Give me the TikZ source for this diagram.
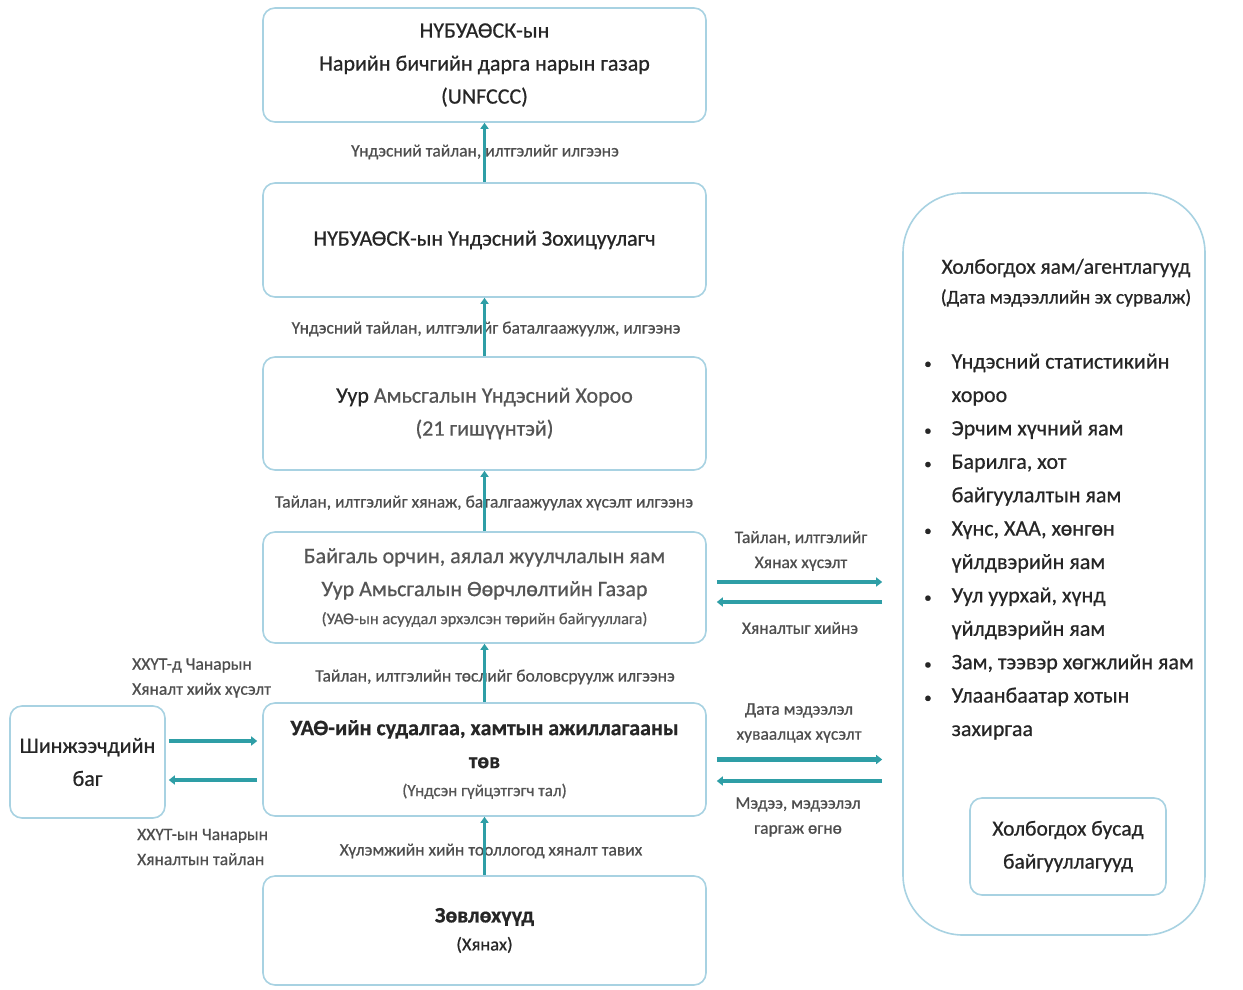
\documentclass[tikz,border=0pt]{standalone}
\usepackage{fontspec}
\setmainfont{Carlito}[FakeBold=0.6]
\usetikzlibrary{arrows.meta,calc}
\definecolor{boxline}{HTML}{A8D2E2}
\definecolor{arrowc}{HTML}{2E9EA6}
\definecolor{txtdark}{HTML}{262626}
\definecolor{txtgray}{HTML}{555555}
\definecolor{lblgray}{HTML}{4E4E4E}
\newcommand{\bul}{{\fontsize{15}{15}\selectfont\textbullet}}
\begin{document}
\begin{tikzpicture}[x=1pt,y=-1pt,
  box/.style={draw=boxline, line width=1.6pt, rounded corners=12pt, fill=white,
    minimum width=443pt, align=center, inner sep=0pt, text=txtdark},
  big/.style={font=\fontsize{22}{33}\selectfont},
  lbl/.style={font=\fontsize{17.5}{25}\selectfont, text=lblgray, inner sep=0pt, align=center},
  varrow/.style={draw=arrowc, line width=3pt, -{Triangle[length=6pt,width=8pt]}},
  harrow/.style={draw=arrowc, line width=4.5pt, -{Triangle[length=6pt,width=9pt]}}
]
\useasboundingbox (0,0) rectangle (1243,989);
\fill[white] (0,0) rectangle (1243,989);

% main column
\node[box, big, minimum height=114pt] (b1) at (484.5,65)
  {НҮБУАӨСК-ын\\Нарийн бичгийн дарга нарын газар\\(UNFCCC)};
\node[box, big, minimum height=114pt] (b2) at (484.5,240)
  {НҮБУАӨСК-ын Үндэсний Зохицуулагч};
\node[box, big, minimum height=113pt, text=txtgray] (b3) at (484.5,413.5)
  {{\color{txtdark}Уур} Амьсгалын Үндэсний Хороо\\(21 гишүүнтэй)};
\node[box, big, minimum height=111pt, text=txtgray] (b4) at (484.5,587.5)
  {Байгаль орчин, аялал жуулчлалын яам\\Уур Амьсгалын Өөрчлөлтийн Газар\\[-5pt]{\fontsize{16.4}{18}\selectfont (УАӨ-ын асуудал эрхэлсэн төрийн байгууллага)}};
\node[box, big, minimum height=113pt] (b5) at (484.5,759.5)
  {\textbf{УАӨ-ийн судалгаа, хамтын ажиллагааны}\\\textbf{төв}\\[-5pt]{\fontsize{17}{18}\selectfont\color{txtgray}(Үндсэн гүйцэтгэгч тал)}};
\node[box, big, minimum height=109pt] (b6) at (484.5,930.5)
  {\textbf{Зөвлөхүүд}\\[-5pt]{\fontsize{18.5}{20}\selectfont (Хянах)}};

% left box
\node[box, big, minimum width=155pt, minimum height=112pt] (lb) at (87.5,762)
  {Шинжээчдийн\\баг};

% right box
\node[draw=boxline, line width=1.6pt, rounded corners=60pt, minimum width=302pt,
  minimum height=742pt, inner sep=0pt] (rb) at (1054,564) {};
\node[font=\fontsize{21.5}{30}\selectfont, text=txtdark, inner sep=0pt] (t1) at (1066,268)
  {Холбогдох яам/агентлагууд};
\node[font=\fontsize{19.5}{20}\selectfont, text=txtdark, inner sep=0pt] (t2) at (1066,298)
  {(Дата мэдээллийн эх сурвалж)};
\node[anchor=north west, inner sep=0pt, text=txtdark, font=\fontsize{22}{33.4}\selectfont] (lst) at (924,345)
  {\begin{tabular}{@{}l@{\hspace{20pt}}l@{}}
   \bul & Үндэсний статистикийн\\
      & хороо\\
   \bul & Эрчим хүчний яам\\
   \bul & Барилга, хот\\
      & байгуулалтын яам\\
   \bul & Хүнс, ХАА, хөнгөн\\
      & үйлдвэрийн яам\\
   \bul & Уул уурхай, хүнд\\
      & үйлдвэрийн яам\\
   \bul & Зам, тээвэр хөгжлийн яам\\
   \bul & Улаанбаатар хотын\\
      & захиргаа
  \end{tabular}};
\node[box, font=\fontsize{21.5}{33}\selectfont, minimum width=196pt, minimum height=97pt] (ob) at (1068,846.5)
  {Холбогдох бусад\\байгууллагууд};

% labels
\node[lbl] (la1) at (485,152) {Үндэсний тайлан, илтгэлийг илгээнэ};
\node[lbl] (la2) at (486,329) {Үндэсний тайлан, илтгэлийг баталгаажуулж, илгээнэ};
\node[lbl] (la3) at (484,503) {Тайлан, илтгэлийг хянаж, баталгаажуулах хүсэлт илгээнэ};
\node[lbl] (la4) at (495,677) {Тайлан, илтгэлийн төслийг боловсруулж илгээнэ};
\node[lbl] (la5) at (491,851) {Хүлэмжийн хийн тооллогод хяналт тавих};
\node[lbl, align=left, anchor=west] (ll1) at (132,678) {ХХҮТ-д Чанарын\\Хяналт хийх хүсэлт};
\node[lbl, align=left, anchor=west] (ll2) at (137,847) {ХХҮТ-ын Чанарын\\Хяналтын тайлан};
\node[lbl] (lr1) at (801,551) {Тайлан, илтгэлийг\\Хянах хүсэлт};
\node[lbl] (lr2) at (800,628) {Хяналтыг хийнэ};
\node[lbl] (lr3) at (799,723) {Дата мэдээлэл\\хуваалцах хүсэлт};
\node[lbl] (lr4) at (798,817) {Мэдээ, мэдээлэл\\гаргаж өгнө};

% vertical arrows
\draw[varrow] (b2) -- (b1);
\draw[varrow] (b3) -- (b2);
\draw[varrow] (b4) -- (b3);
\draw[varrow] (b5) -- (b4);
\draw[varrow] (b6) -- (b5);

% left arrows
\draw[harrow] ($(lb.east)+(3,-21)$) -- ($(lb.east -| b5.west)+(-5,-21)$);
\draw[harrow] ($(lb.east -| b5.west)+(-5,18)$) -- ($(lb.east)+(3,18)$);

% right arrows
\draw[harrow] ($(b4.east)+(10,-5.5)$) -- ($(b4.east -| rb.west)+(-20,-5.5)$);
\draw[harrow] ($(b4.east -| rb.west)+(-20,14.5)$) -- ($(b4.east)+(10,14.5)$);
\draw[harrow] ($(b5.east)+(10,0)$) -- ($(b5.east -| rb.west)+(-20,0)$);
\draw[harrow] ($(b5.east -| rb.west)+(-20,21.5)$) -- ($(b5.east)+(10,21.5)$);
\end{tikzpicture}
\end{document}
